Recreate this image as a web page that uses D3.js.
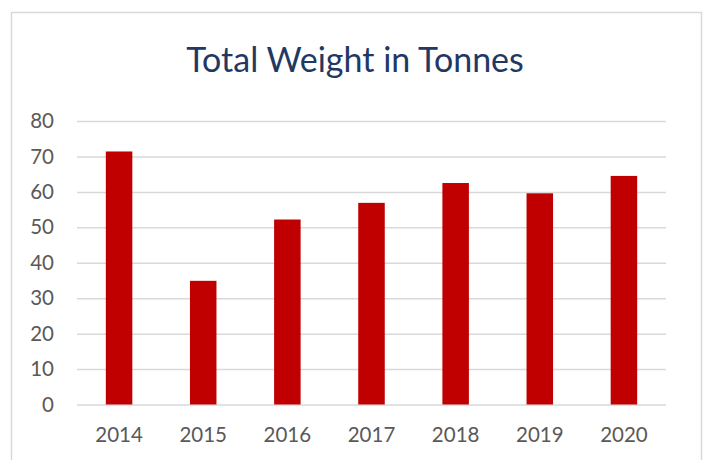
<!DOCTYPE html>
<html>
<head>
<meta charset="utf-8">
<script src="https://cdn.jsdelivr.net/npm/d3@7"></script>
<style>
    body { margin: 0; background: #fff; }
    svg { display: block; }
</style>
</head>
<body>
<script>
const years = ["2014", "2015", "2016", "2017", "2018", "2019", "2020"];
const weights = [71.4, 34.9, 52.2, 56.9, 62.5, 59.6, 64.5];
const yTicks = [0, 10, 20, 30, 40, 50, 60, 70, 80];
const title = "Total Weight in Tonnes";

const width = 706;
const height = 460;
const margin = { top: 121, right: 40, bottom: 56, left: 77 };
const font = "Lato, 'Open Sans', sans-serif";

const svg = d3.select("body")
    .append("svg")
    .attr("width", width)
    .attr("height", height);

// chart frame, bottom runs off the picture
svg.append("rect")
    .attr("x", 11.5)
    .attr("y", 12.5)
    .attr("width", 690)
    .attr("height", 470)
    .attr("fill", "#fff")
    .attr("stroke", "#d9d9d9")
    .attr("stroke-width", 1.5);

const xScale = d3.scaleBand()
    .domain(years)
    .range([margin.left, width - margin.right])
    .paddingInner(0.685)
    .paddingOuter(0.3425);

const yScale = d3.scaleLinear()
    .domain([0, 80])
    .range([404.5, margin.top]);

svg.append("text")
    .attr("x", 355)
    .attr("y", 72)
    .attr("text-anchor", "middle")
    .style("font-family", font)
    .style("font-size", "34px")
    .style("fill", "#1f3864")
    .text(title);

const yAxis = d3.axisLeft(yScale)
    .tickValues(yTicks)
    .tickSize(-(width - margin.right - margin.left))
    .tickPadding(23);

svg.append("g")
    .attr("id", "y-axis")
    .attr("transform", `translate(${margin.left},0)`)
    .call(yAxis)
    .call(g => g.select(".domain").remove())
    .call(g => g.selectAll(".tick line").attr("stroke", "#d9d9d9").attr("stroke-width", 1.5))
    .call(g => g.selectAll(".tick text")
        .style("font-family", font)
        .style("font-size", "20.5px")
        .style("fill", "#595959"));

svg.selectAll("rect.bar")
    .data(weights)
    .enter()
    .append("rect")
    .attr("class", "bar")
    .attr("x", (d, i) => xScale(years[i]))
    .attr("y", (d) => yScale(d))
    .attr("width", xScale.bandwidth())
    .attr("height", (d) => yScale(0) - yScale(d))
    .attr("fill", "#c00000");

const xAxis = d3.axisBottom(xScale).tickSize(0).tickPadding(23);

svg.append("g")
    .attr("id", "x-axis")
    .attr("transform", `translate(0,${yScale(0)})`)
    .call(xAxis)
    .call(g => g.select(".domain").remove())
    .call(g => g.selectAll(".tick text")
        .style("font-family", font)
        .style("font-size", "20.5px")
        .style("fill", "#595959"));
</script>
</body>
</html>
